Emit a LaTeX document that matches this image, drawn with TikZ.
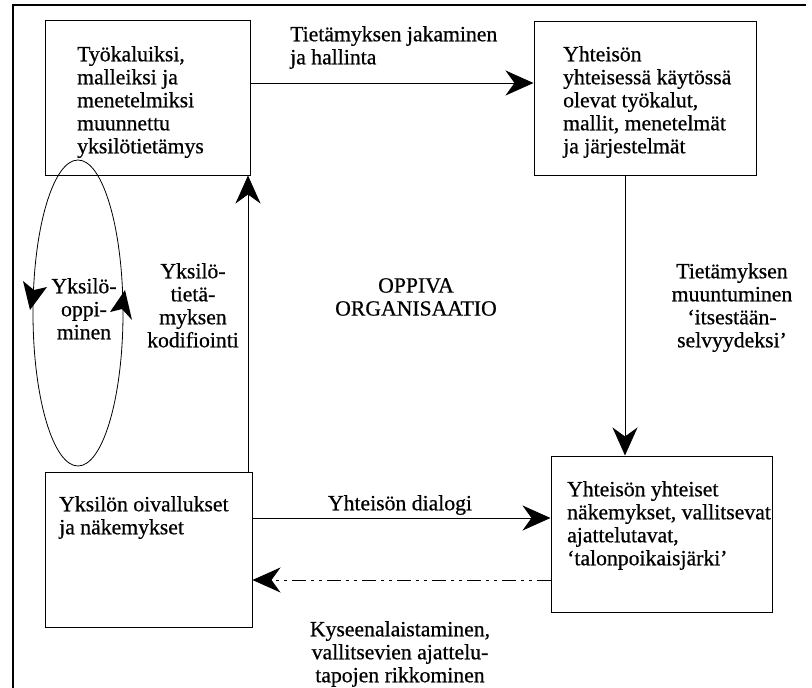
\documentclass[tikz,border=0pt]{standalone}
\usepackage{fontspec}
\setmainfont{Liberation Serif}[FakeBold=0.6]
\usetikzlibrary{arrows.meta}
\begin{document}
\begin{tikzpicture}[x=1pt,y=-1pt,
  box/.style={draw, line width=1pt, inner sep=0pt},
  txt/.style={font=\fontsize{21.7}{23}\selectfont, inner sep=0pt, align=left, anchor=north west},
  lab/.style={font=\fontsize{21.7}{23}\selectfont, inner sep=0pt, align=center, anchor=north},
  arr/.style={line width=0.8pt, -{Stealth[length=28pt,width=25pt,inset=9pt]}},
  tipdown/.style={fill=black},
  frame/.style={line width=1.2pt}]
\useasboundingbox (0,0) rectangle (812,688);
% outer frame
\coordinate (fTL) at (13,5);
\coordinate (fTR) at (806,5);
\coordinate (fBL) at (13,688);
\draw[frame] (fTR) -- (fTL) -- (fBL);
% boxes
\node[box, minimum width=205pt, minimum height=155pt] (B1) at (147.5,97.5) {};
\node[box, minimum width=222pt, minimum height=154pt] (B2) at (645,98) {};
\node[box, minimum width=207pt, minimum height=155pt] (B3) at (148.5,549.5) {};
\node[box, minimum width=221pt, minimum height=156pt] (B4) at (661.5,534) {};
% box texts
\node[txt] (t1) at (77,46) {Työkaluiksi,\\malleiksi ja\\menetelmiksi\\muunnettu\\yksilötietämys};
\node[txt] (t2) at (563,46) {Yhteisön\\yhteisessä käytössä\\olevat työkalut,\\mallit, menetelmät\\ja järjestelmät};
\node[txt] (t3) at (59,496) {Yksilön oivallukset\\ja näkemykset};
\node[txt] (t4) at (567,481) {Yhteisön yhteiset\\näkemykset, vallitsevat\\ajattelutavat,\\‘talonpoikaisjärki’};
% connectors
\draw[arr] (B1.east |- 0,83) -- (B2.west |- 0,83);
\draw[arr] (B2.south -| 625,0) -- (B4.north -| 625,0);
\draw[arr] (B3.north -| 248,0) -- (B1.south -| 248,0);
\draw[arr] (B3.east |- 0,518) -- (B4.west |- 0,518);
\draw[arr, dash pattern=on 14pt off 5pt on 3pt off 5pt on 3pt off 5pt] (B4.west |- 0,580) -- (B3.east |- 0,580);
% labels
\node[txt] (l1) at (290,26) {Tietämyksen jakaminen\\ja hallinta};
\node[lab] (l2) at (732,263) {Tietämyksen\\muuntuminen\\‘itsestään-\\selvyydeksi’};
\node[lab] (l3) at (193,263) {Yksilö-\\tietä-\\myksen\\kodifiointi};
\node[lab] (l4) at (416,278) {OPPIVA\\ORGANISAATIO};
\node[lab] (l5) at (400,495) {Yhteisön dialogi};
\node[lab] (l6) at (400,621) {Kyseenalaistaminen,\\vallitsevien ajattelu-\\tapojen rikkominen};
% individual learning loop
\draw[line width=0.8pt] (78,313) ellipse [x radius=45pt, y radius=153pt];
\node[lab] (l7) at (84,278) {Yksilö-\\oppi-\\minen};
% arrowheads on the loop (tip, barb, notch, barb)
\fill (30,310) -- (23,281) -- (34,290) -- (47,287) -- cycle;
\fill (125,290) -- (132,320) -- (122,309) -- (110,312) -- cycle;
\end{tikzpicture}
\end{document}
